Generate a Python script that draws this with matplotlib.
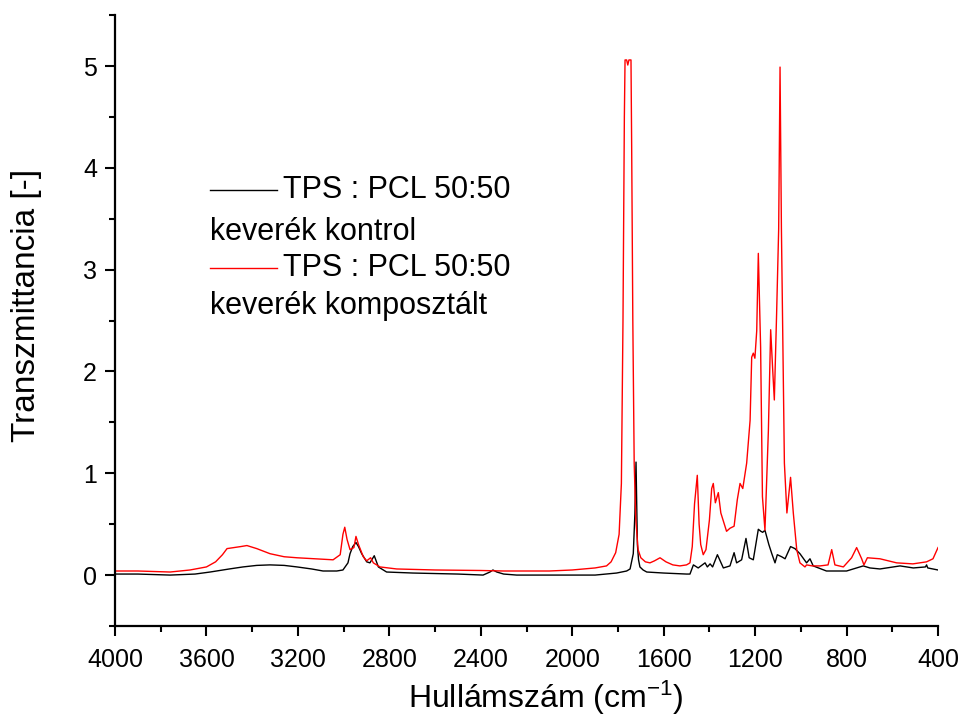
'''
FTIR spectra - TPS : PCL 50:50 blend, control vs composted
'''

import numpy as np
import matplotlib
matplotlib.use('Agg')
import matplotlib.pyplot as plt
from matplotlib.ticker import MultipleLocator

plt.rcParams['font.family'] = ['Liberation Sans', 'DejaVu Sans']
plt.rcParams['mathtext.fontset'] = 'custom'
plt.rcParams['mathtext.rm'] = 'Liberation Sans'
plt.rcParams['mathtext.it'] = 'Liberation Sans:italic'

# ═══ Data ═════════════════════════════════════════════════════════════════

# ─── Control blend (black)
blk_wn = [4000, 3900, 3759, 3650, 3584, 3500, 3440, 3380, 3322, 3260, 3204, 3140,
          3090, 3030, 3003, 2981, 2972, 2960, 2946, 2935, 2921, 2899, 2885, 2866,
          2848, 2812, 2697, 2500, 2390, 2360, 2347, 2330, 2300, 2243, 2000, 1900,
          1806, 1762, 1747, 1733, 1726, 1721, 1715, 1710, 1704, 1690, 1674, 1600,
          1500, 1485, 1470, 1449, 1419, 1409, 1397, 1386, 1365, 1339, 1310, 1292,
          1281, 1259, 1240, 1226, 1208, 1186, 1175, 1167, 1157, 1140, 1127, 1113,
          1103, 1084, 1069, 1045, 1026, 1004, 975, 960, 946, 888, 800, 727, 698,
          654, 566, 508, 455, 450, 445, 400]
blk_val = [0.01, 0.01, 0.00, 0.01, 0.03, 0.06, 0.08, 0.095, 0.10, 0.095, 0.08, 0.06,
           0.04, 0.04, 0.05, 0.12, 0.21, 0.28, 0.32, 0.28, 0.21, 0.13, 0.12, 0.19,
           0.08, 0.03, 0.02, 0.01, 0.00, 0.03, 0.05, 0.03, 0.01, 0.00, 0.00, 0.00,
           0.02, 0.04, 0.06, 0.21, 0.60, 1.11, 0.30, 0.15, 0.08, 0.05, 0.03, 0.02,
           0.01, 0.01, 0.10, 0.07, 0.12, 0.08, 0.11, 0.08, 0.20, 0.07, 0.09, 0.22,
           0.12, 0.15, 0.36, 0.17, 0.15, 0.45, 0.43, 0.42, 0.44, 0.30, 0.21, 0.12,
           0.20, 0.18, 0.16, 0.28, 0.26, 0.21, 0.12, 0.16, 0.09, 0.04, 0.04, 0.09,
           0.07, 0.06, 0.09, 0.07, 0.08, 0.10, 0.07, 0.05]

# ─── Composted blend (red)
red_wn = [4000, 3900, 3759, 3672, 3600, 3560, 3530, 3510, 3480, 3450, 3423, 3380,
          3322, 3260, 3204, 3046, 3015, 3003, 2995, 2985, 2972, 2955, 2946, 2935,
          2914, 2899, 2882, 2870, 2841, 2768, 2600, 2400, 2300, 2100, 2000, 1900,
          1850, 1830, 1810, 1795, 1785, 1778, 1772, 1769, 1762, 1757, 1752, 1743,
          1740, 1735, 1729, 1722, 1712, 1700, 1680, 1660, 1640, 1616, 1590, 1560,
          1529, 1500, 1485, 1475, 1465, 1453, 1445, 1438, 1427, 1415, 1400, 1390,
          1383, 1374, 1361, 1350, 1325, 1310, 1292, 1278, 1266, 1254, 1237, 1222,
          1215, 1208, 1201, 1193, 1186, 1176, 1168, 1157, 1142, 1132, 1123, 1116,
          1106, 1097, 1091, 1085, 1072, 1061, 1045, 1033, 1018, 1004, 982, 975, 950,
          916, 881, 865, 851, 814, 778, 756, 734, 724, 709, 654, 581, 510, 450, 422,
          400]
red_val = [0.04, 0.04, 0.03, 0.05, 0.08, 0.13, 0.20, 0.26, 0.27, 0.28, 0.29, 0.26,
           0.21, 0.18, 0.17, 0.15, 0.20, 0.40, 0.47, 0.35, 0.25, 0.27, 0.38, 0.30,
           0.18, 0.14, 0.17, 0.12, 0.08, 0.06, 0.05, 0.045, 0.04, 0.04, 0.05, 0.07,
           0.09, 0.13, 0.22, 0.40, 0.90, 2.50, 4.50, 5.06, 5.06, 5.01, 5.06, 5.06,
           4.20, 2.50, 1.10, 0.55, 0.25, 0.17, 0.13, 0.12, 0.14, 0.17, 0.13, 0.10,
           0.09, 0.10, 0.12, 0.28, 0.70, 0.98, 0.50, 0.30, 0.20, 0.25, 0.54, 0.85,
           0.90, 0.71, 0.81, 0.61, 0.43, 0.46, 0.48, 0.74, 0.90, 0.85, 1.10, 1.52,
           2.14, 2.18, 2.13, 2.40, 3.16, 2.24, 0.77, 0.44, 1.42, 2.41, 2.01, 1.72,
           2.57, 3.40, 4.99, 3.40, 1.10, 0.61, 0.96, 0.61, 0.25, 0.12, 0.08, 0.10,
           0.09, 0.09, 0.10, 0.25, 0.10, 0.08, 0.17, 0.27, 0.16, 0.10, 0.17, 0.16,
           0.12, 0.11, 0.13, 0.16, 0.27]

labels = [('TPS : PCL 50:50', 'keverék kontrol'),
          ('TPS : PCL 50:50', 'keverék komposztált')]
colors = ['black', 'red']

# ═══ Figure ═══════════════════════════════════════════════════════════════

fig = plt.figure(figsize=(9.6, 7.22), dpi=100)
ax = fig.add_axes([0.1198, 0.133, 0.8573, 0.846])

ax.plot(blk_wn, blk_val, color=colors[0], lw=1.0)
ax.plot(red_wn, red_val, color=colors[1], lw=1.0)

# ─── Legend (drawn by hand, Origin style)

rows = [(0.7136, 0.6448), (0.5859, 0.5237)]
for (lab1, lab2), c, (y1, y2) in zip(labels, colors, rows):
  ax.plot([0.1154, 0.197], [y1, y1], color=c, lw=1.0, transform=ax.transAxes)
  ax.text(0.204, y1, lab1, transform=ax.transAxes, va='center', ha='left', fontsize=22)
  ax.text(0.1154, y2, lab2, transform=ax.transAxes, va='center', ha='left', fontsize=22)

# ─── Axes settings

ax.set_xlim(4000, 400)
ax.set_ylim(-0.5, 5.5)

ax.xaxis.set_major_locator(MultipleLocator(400))
ax.xaxis.set_minor_locator(MultipleLocator(200))
ax.yaxis.set_major_locator(MultipleLocator(1))
ax.yaxis.set_minor_locator(MultipleLocator(0.5))

for s in ['top', 'right']:
  ax.spines[s].set_visible(False)
for s in ['left', 'bottom']:
  ax.spines[s].set_linewidth(1.6)

ax.tick_params(which='major', direction='out', length=7, width=1.5, labelsize=18)
ax.tick_params(axis='x', which='major', pad=9)
ax.tick_params(axis='y', which='major', pad=6)
ax.tick_params(which='minor', direction='out', length=4, width=1.5)

ax.set_xlabel('Hullámszám (cm$^{\\mathrm{-1}}$)', fontsize=23)
ax.set_ylabel('Transzmittancia [-]', fontsize=24)
ax.xaxis.set_label_coords(0.524, -0.086)
ax.yaxis.set_label_coords(-0.089, 0.525)

fig.savefig('out.png', dpi=100)
